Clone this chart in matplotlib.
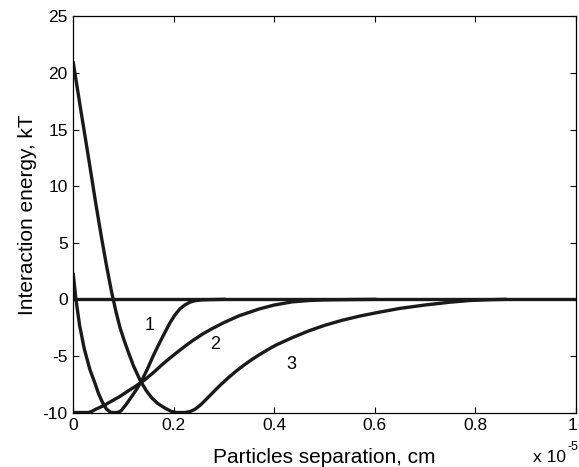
import numpy as np
import matplotlib
matplotlib.use("Agg")
import matplotlib.pyplot as plt
import matplotlib.transforms as mtransforms

plt.rcParams['font.family'] = ['Liberation Sans', 'DejaVu Sans']
plt.rcParams['axes.unicode_minus'] = False

# separation in units of 1e-5 cm, energy in kT
x1 = [0.0, 0.005, 0.0125, 0.022, 0.033, 0.043, 0.050, 0.058, 0.066, 0.075,
      0.088, 0.095, 0.105, 0.116, 0.126, 0.136, 0.147, 0.159, 0.171, 0.182,
      0.192, 0.202, 0.212, 0.222, 0.232, 0.242, 0.255, 0.275, 0.30]
u1 = [2.2, 0.1, -2.3, -4.4, -6.2, -7.4, -8.3, -9.1, -9.7, -10.0,
      -10.0, -9.85, -9.3, -8.6, -7.95, -7.2, -6.2, -5.0, -3.9, -2.95,
      -2.1, -1.4, -0.85, -0.5, -0.25, -0.12, -0.05, -0.02, 0.0]

x2 = [0.0, 0.03, 0.037, 0.043, 0.06, 0.076, 0.092, 0.109, 0.125, 0.1425,
      0.16, 0.176, 0.192, 0.209, 0.225, 0.24, 0.258, 0.275, 0.30, 0.33,
      0.37, 0.40, 0.436, 0.47, 0.50, 0.55, 0.60]
u2 = [-10.0, -10.0, -9.9, -9.75, -9.4, -9.0, -8.6, -8.1, -7.65, -7.1,
      -6.45, -5.8, -5.2, -4.6, -4.05, -3.57, -3.05, -2.62, -2.05, -1.45,
      -0.85, -0.5, -0.22, -0.1, -0.05, -0.02, 0.0]

x3 = [0.0, 0.015, 0.03, 0.045, 0.056, 0.066, 0.076, 0.085, 0.093, 0.101,
      0.109, 0.12, 0.133, 0.145, 0.156, 0.168, 0.182, 0.195, 0.205, 0.222,
      0.232, 0.242, 0.252, 0.262, 0.272, 0.283, 0.295, 0.308, 0.322, 0.337,
      0.355, 0.37, 0.387, 0.403, 0.435, 0.469, 0.50, 0.535, 0.57, 0.607,
      0.65, 0.70, 0.75, 0.79, 0.83, 0.86]
u3 = [20.9, 16.7, 12.6, 8.4, 5.5, 3.0, 0.7, -1.1, -2.5, -3.6,
      -4.6, -5.9, -7.15, -8.05, -8.7, -9.2, -9.6, -9.9, -10.0, -10.0,
      -9.92, -9.72, -9.38, -8.95, -8.5, -8.0, -7.48, -6.95, -6.42, -5.9,
      -5.33, -4.9, -4.45, -4.05, -3.4, -2.78, -2.3, -1.85, -1.48, -1.15,
      -0.8, -0.5, -0.25, -0.1, -0.03, 0.0]

x0 = [0.0, 1.0]
u0 = [0.0, 0.0]

labels = ["1", "2", "3"]
label_pos = [(0.152, -2.3), (0.282, -4.0), (0.434, -5.8)]

fig = plt.figure(figsize=(5.79, 4.67), dpi=100)
ax = fig.add_axes([0.1266, 0.1167, 0.8677, 0.848])

lw = 2.4
col = '#1a1a1a'
ax.plot(x0, u0, color=col, lw=lw)
ax.plot(x1, u1, color=col, lw=lw)
ax.plot(x2, u2, color=col, lw=lw)
ax.plot(x3, u3, color=col, lw=lw)

for lab, (lx, ly) in zip(labels, label_pos):
    ax.text(lx, ly, lab, fontsize=13, ha='center', va='center')

ax.set_xlim(0, 1)
ax.set_ylim(-10, 25)
ax.set_xticks([0, 0.2, 0.4, 0.6, 0.8, 1])
ax.set_xticklabels(["0", "0.2", "0.4", "0.6", "0.8", "1"])
ax.set_yticks(range(-10, 26, 5))
ax.tick_params(direction='in', top=True, right=True, length=4, width=0.8,
               labelsize=12.5, pad=4)
for sp in ax.spines.values():
    sp.set_linewidth(0.9)

# keep the last tick label inside the figure
last = ax.get_xticklabels()[-1]
last.set_transform(last.get_transform() +
                   mtransforms.ScaledTranslation(-3 / 100, 0, fig.dpi_scale_trans))

ax.set_xlabel("Particles separation, cm", fontsize=15)
ax.xaxis.label.set_va('baseline')
ax.xaxis.set_label_coords(0.5, -0.1275)
ax.set_ylabel("Interaction energy, kT", fontsize=15)
ax.yaxis.label.set_va('baseline')
ax.yaxis.set_label_coords(-0.081, 0.5)

fig.text(533 / 579, 5 / 467, "x 10", fontsize=12.5, va='baseline')
fig.text(567 / 579, 17 / 467, "-5", fontsize=9, va='baseline')

fig.savefig("out.png", dpi=100)
